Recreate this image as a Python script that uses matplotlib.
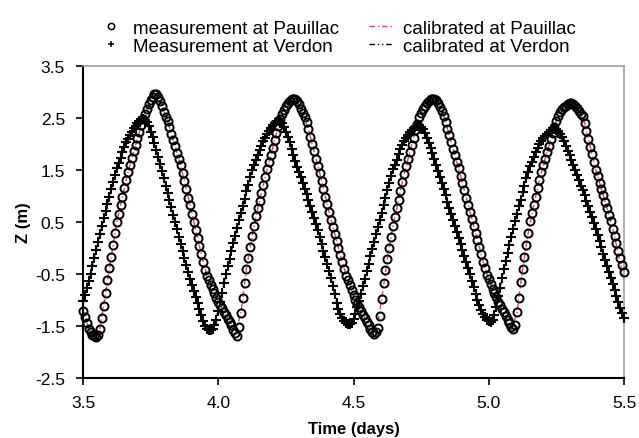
import matplotlib
matplotlib.use("Agg")
import matplotlib.pyplot as plt
import numpy as np

plt.rcParams["font.family"] = ["Liberation Sans", "DejaVu Sans"]

# measured water level, one value every 10 minutes from day 3.5 to 5.5
z_pauillac = [
    -1.21, -1.33, -1.45, -1.55, -1.62, -1.67, -1.70, -1.71, -1.68, -1.56,
    -1.35, -1.11, -0.87, -0.62, -0.39, -0.17, 0.06, 0.28, 0.50, 0.66,
    0.82, 0.98, 1.15, 1.31, 1.47, 1.60, 1.73, 1.86, 1.98, 2.11,
    2.23, 2.36, 2.49, 2.58, 2.67, 2.76, 2.84, 2.91, 2.96, 2.96,
    2.91, 2.83, 2.73, 2.62, 2.52, 2.45, 2.33, 2.20, 2.08, 1.96,
    1.83, 1.71, 1.59, 1.45, 1.29, 1.13, 0.97, 0.82, 0.66, 0.50,
    0.35, 0.19, 0.04, -0.12, -0.27, -0.42, -0.54, -0.62, -0.71, -0.79,
    -0.87, -0.96, -1.03, -1.10, -1.16, -1.23, -1.29, -1.36, -1.42, -1.49,
    -1.57, -1.64, -1.70, -1.52, -1.25, -0.97, -0.68, -0.40, -0.19, 0.02,
    0.23, 0.43, 0.61, 0.76, 0.91, 1.06, 1.21, 1.36, 1.51, 1.65,
    1.79, 1.93, 2.07, 2.21, 2.35, 2.49, 2.58, 2.66, 2.73, 2.79,
    2.83, 2.86, 2.87, 2.86, 2.82, 2.76, 2.68, 2.60, 2.52, 2.42,
    2.28, 2.14, 2.00, 1.86, 1.72, 1.58, 1.44, 1.29, 1.14, 0.99,
    0.84, 0.69, 0.54, 0.41, 0.27, 0.14, 0.00, -0.13, -0.27, -0.40,
    -0.53, -0.62, -0.72, -0.81, -0.91, -1.00, -1.07, -1.14, -1.21, -1.28,
    -1.35, -1.42, -1.49, -1.56, -1.62, -1.65, -1.62, -1.53, -1.30, -0.99,
    -0.68, -0.42, -0.21, 0.00, 0.21, 0.42, 0.60, 0.77, 0.93, 1.10,
    1.27, 1.43, 1.58, 1.72, 1.85, 1.99, 2.12, 2.26, 2.39, 2.51,
    2.60, 2.68, 2.74, 2.79, 2.83, 2.86, 2.87, 2.87, 2.84, 2.79,
    2.72, 2.63, 2.54, 2.42, 2.29, 2.17, 2.04, 1.91, 1.78, 1.65,
    1.53, 1.39, 1.25, 1.11, 0.97, 0.83, 0.69, 0.56, 0.42, 0.28,
    0.15, 0.01, -0.12, -0.26, -0.39, -0.52, -0.60, -0.69, -0.78, -0.86,
    -0.95, -1.03, -1.10, -1.17, -1.24, -1.31, -1.38, -1.45, -1.52, -1.56,
    -1.48, -1.24, -0.97, -0.66, -0.41, -0.17, 0.06, 0.29, 0.52, 0.67,
    0.83, 0.99, 1.15, 1.31, 1.47, 1.60, 1.72, 1.84, 1.96, 2.09,
    2.21, 2.33, 2.45, 2.54, 2.61, 2.67, 2.71, 2.74, 2.76, 2.78,
    2.78, 2.76, 2.73, 2.69, 2.64, 2.57, 2.53, 2.40, 2.25, 2.10,
    1.95, 1.80, 1.65, 1.50, 1.38, 1.25, 1.13, 1.01, 0.88, 0.76,
    0.64, 0.51, 0.37, 0.23, 0.09, -0.05, -0.19, -0.33, -0.47,
]

z_verdon = [
    -1.02, -0.90, -0.77, -0.64, -0.50, -0.35, -0.20, -0.04, 0.12, 0.27,
    0.43, 0.57, 0.71, 0.85, 0.99, 1.13, 1.27, 1.41, 1.54, 1.64,
    1.74, 1.85, 1.95, 2.04, 2.10, 2.17, 2.23, 2.30, 2.35, 2.40,
    2.44, 2.47, 2.48, 2.47, 2.42, 2.34, 2.24, 2.14, 2.01, 1.88,
    1.75, 1.62, 1.49, 1.35, 1.20, 1.06, 0.92, 0.78, 0.64, 0.50,
    0.36, 0.22, 0.08, -0.06, -0.19, -0.33, -0.47, -0.60, -0.71, -0.83,
    -0.94, -1.06, -1.17, -1.29, -1.41, -1.50, -1.55, -1.58, -1.58, -1.55,
    -1.48, -1.39, -1.21, -1.03, -0.86, -0.68, -0.50, -0.35, -0.21, -0.06,
    0.09, 0.24, 0.38, 0.53, 0.67, 0.81, 0.95, 1.09, 1.22, 1.36,
    1.50, 1.60, 1.69, 1.78, 1.88, 1.97, 2.05, 2.12, 2.19, 2.25,
    2.31, 2.36, 2.40, 2.43, 2.45, 2.44, 2.40, 2.33, 2.24, 2.14,
    2.03, 1.91, 1.79, 1.67, 1.56, 1.47, 1.36, 1.25, 1.14, 1.03,
    0.92, 0.80, 0.69, 0.58, 0.47, 0.34, 0.21, 0.08, -0.05, -0.18,
    -0.31, -0.44, -0.57, -0.74, -0.89, -1.05, -1.18, -1.27, -1.35, -1.41,
    -1.45, -1.47, -1.47, -1.44, -1.36, -1.26, -1.14, -1.02, -0.88, -0.74,
    -0.59, -0.45, -0.30, -0.16, -0.02, 0.12, 0.26, 0.40, 0.54, 0.68,
    0.82, 0.96, 1.11, 1.25, 1.39, 1.51, 1.60, 1.70, 1.80, 1.90,
    1.99, 2.06, 2.12, 2.18, 2.23, 2.27, 2.31, 2.33, 2.35, 2.35,
    2.33, 2.28, 2.21, 2.12, 2.02, 1.92, 1.82, 1.71, 1.60, 1.49,
    1.37, 1.25, 1.13, 1.01, 0.89, 0.77, 0.66, 0.54, 0.43, 0.31,
    0.19, 0.08, -0.04, -0.15, -0.27, -0.39, -0.50, -0.63, -0.75, -0.88,
    -1.00, -1.10, -1.19, -1.27, -1.33, -1.38, -1.41, -1.42, -1.38, -1.28,
    -1.13, -0.93, -0.76, -0.58, -0.41, -0.25, -0.10, 0.06, 0.22, 0.37,
    0.52, 0.66, 0.80, 0.93, 1.07, 1.20, 1.34, 1.47, 1.57, 1.66,
    1.75, 1.84, 1.93, 2.00, 2.06, 2.11, 2.16, 2.20, 2.23, 2.26,
    2.28, 2.29, 2.28, 2.25, 2.20, 2.13, 2.05, 1.96, 1.87, 1.78,
    1.69, 1.60, 1.50, 1.40, 1.30, 1.20, 1.11, 1.01, 0.91, 0.81,
    0.70, 0.60, 0.49, 0.37, 0.25, 0.13, 0.01, -0.11, -0.23, -0.35,
    -0.47, -0.58, -0.70, -0.81, -0.93, -1.04, -1.15, -1.25, -1.35,
]

# calibrated model output, one value every 30 minutes
z_cal_pauillac = [
    -1.21, -1.55, -1.70, -1.56, -0.87, -0.17, 0.50, 0.98, 1.47, 1.86,
    2.23, 2.58, 2.84, 2.96, 2.73, 2.45, 2.08, 1.71, 1.29, 0.82,
    0.35, -0.12, -0.54, -0.79, -1.03, -1.23, -1.42, -1.68, -1.25, -0.40,
    0.23, 0.76, 1.21, 1.65, 2.07, 2.49, 2.80, 2.90, 2.82, 2.60,
    2.28, 1.86, 1.44, 0.99, 0.54, 0.14, -0.27, -0.62, -0.91, -1.14,
    -1.35, -1.56, -1.66, -0.99, -0.21, 0.42, 0.93, 1.43, 1.85, 2.26,
    2.60, 2.79, 2.87, 2.79, 2.54, 2.17, 1.78, 1.39, 0.97, 0.56,
    0.15, -0.26, -0.60, -0.86, -1.10, -1.31, -1.58, -1.24, -0.41, 0.29,
    0.83, 1.31, 1.72, 2.09, 2.45, 2.67, 2.76, 2.76, 2.64, 2.40,
    1.95, 1.50, 1.13, 0.76, 0.37, -0.12, -0.62,
]

z_cal_verdon = [
    -1.02, -0.64, -0.20, 0.27, 0.71, 1.13, 1.54, 1.85, 2.10, 2.30,
    2.44, 2.47, 2.24, 1.88, 1.49, 1.06, 0.64, 0.22, -0.19, -0.60,
    -0.94, -1.29, -1.55, -1.55, -1.21, -0.68, -0.21, 0.24, 0.67, 1.09,
    1.50, 1.78, 2.05, 2.25, 2.40, 2.44, 2.24, 1.91, 1.56, 1.25,
    0.92, 0.58, 0.21, -0.18, -0.57, -1.05, -1.35, -1.47, -1.36, -1.02,
    -0.59, -0.16, 0.26, 0.68, 1.11, 1.51, 1.80, 2.06, 2.23, 2.33,
    2.33, 2.12, 1.82, 1.49, 1.13, 0.77, 0.43, 0.08, -0.27, -0.63,
    -1.00, -1.27, -1.41, -1.28, -0.76, -0.25, 0.22, 0.66, 1.07, 1.47,
    1.75, 2.00, 2.16, 2.26, 2.28, 2.13, 1.87, 1.60, 1.30, 1.01,
    0.70, 0.37, 0.01, -0.35, -0.70, -1.04, -1.35,
]

t_meas = 3.5 + np.arange(len(z_pauillac)) / 144.0
t_cal = 3.5 + np.arange(len(z_cal_pauillac)) / 48.0

x_ticks = [3.5, 4.0, 4.5, 5.0, 5.5]
y_ticks = [-2.5, -1.5, -0.5, 0.5, 1.5, 2.5, 3.5]

RED = "#c8504d"
GRAY = "#a0a0a0"

fig = plt.figure(figsize=(6.39, 4.39), dpi=100)
ax = fig.add_axes([83 / 639, 1 - 379 / 439, 541 / 639, 312 / 439])

ax.plot(t_cal, z_cal_pauillac, color=RED, lw=1.0, ls=(0, (4, 2, 1, 2)),
        label="calibrated at Pauillac", zorder=2)
ax.plot(t_cal, z_cal_verdon, color="black", lw=1.0, ls=(0, (4, 2, 1, 2, 1, 2)),
        label="calibrated at Verdon", zorder=2)
ax.plot(t_meas, z_verdon, ls="none", marker="+", ms=7, mew=1.5, color="black",
        label="Measurement at Verdon", zorder=3, clip_on=False)
ax.plot(t_meas, z_pauillac, ls="none", marker="o", ms=5.8, mew=1.4, mfc="none",
        mec="black", label="measurement at Pauillac", zorder=4, clip_on=False)

ax.set_xlim(3.5, 5.5)
ax.set_ylim(-2.5, 3.5)
ax.set_xticks(x_ticks)
ax.set_xticklabels([f"{v:.1f}" for v in x_ticks])
ax.set_yticks(y_ticks)
ax.set_yticklabels([f"{v:.1f}" for v in y_ticks])
ax.tick_params(direction="out", length=5, width=1.2, labelsize=12.5)
ax.tick_params(axis="x", pad=7)
ax.tick_params(axis="y", pad=8)

for side in ("top", "right"):
    ax.spines[side].set_color(GRAY)
    ax.spines[side].set_linewidth(1.2)
for side in ("left", "bottom"):
    ax.spines[side].set_linewidth(1.5)

ax.set_xlabel("Time (days)", fontsize=12, fontweight="bold", labelpad=8)
ax.set_ylabel("Z (m)", fontsize=12, fontweight="bold", labelpad=3)

handles, labels = ax.get_legend_handles_labels()
order = [3, 2, 0, 1]
leg = ax.legend([handles[i] for i in order], [labels[i] for i in order],
                loc="lower center", bbox_to_anchor=(0.47, 1.0), ncol=2,
                frameon=False, fontsize=13.5, numpoints=1, handlelength=1.3,
                handletextpad=0.5, columnspacing=1.6, labelspacing=0.05,
                borderaxespad=0.2)
for h in leg.legend_handles[:2]:
    h.set_markersize(4.5)
    h.set_markeredgewidth(1.1)

fig.savefig("out.png", dpi=100)
